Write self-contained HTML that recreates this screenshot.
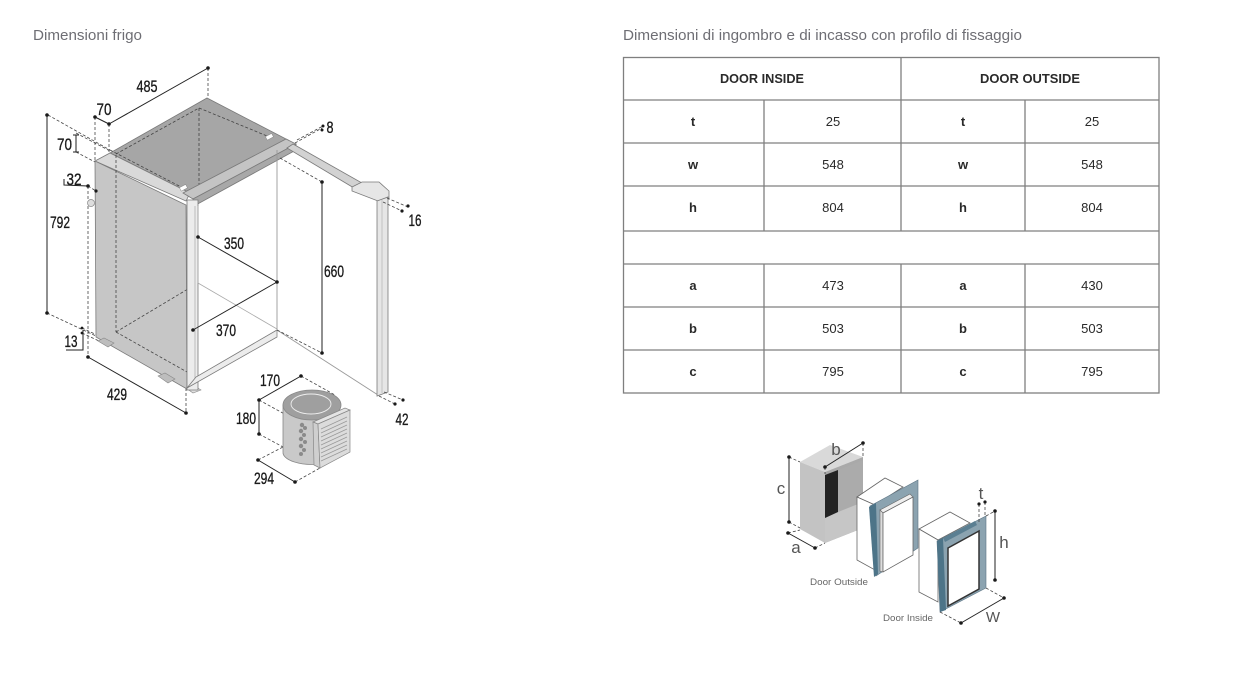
<!DOCTYPE html>
<html><head><meta charset="utf-8"><style>
html,body{margin:0;padding:0;background:#fff;}
svg{display:block;}
text{font-family:"Liberation Sans",sans-serif;}
.n{font-size:17px;fill:#1a1a1a;text-anchor:middle;stroke:#1a1a1a;stroke-width:0.35;}
.tb{font-size:13px;fill:#2a2a2a;text-anchor:middle;}
.d{stroke:#444;stroke-width:0.8;stroke-dasharray:3 2;fill:none;}
.s{stroke:#222;stroke-width:1;fill:none;}
.dot{fill:#1a1a1a;}
.o{stroke:#7a7a7a;stroke-width:0.8;}
</style></head><body>
<svg width="1260" height="692" viewBox="0 0 1260 692" xmlns="http://www.w3.org/2000/svg">
<rect width="1260" height="692" fill="#fff"/>

<!-- Titles -->
<text x="33" y="40" font-size="15" fill="#6e6e74" textLength="109" lengthAdjust="spacingAndGlyphs">Dimensioni frigo</text>
<text x="623" y="40" font-size="15" fill="#6e6e74" textLength="399" lengthAdjust="spacingAndGlyphs">Dimensioni di ingombro e di incasso con profilo di fissaggio</text>

<!-- ============ FRIDGE ============ -->
<line class="d" x1="208" y1="68" x2="208" y2="98"/>
<line class="d" x1="109" y1="124" x2="109" y2="152"/>
<line class="d" x1="95" y1="117" x2="95" y2="162"/>
<line class="d" x1="48" y1="115" x2="110" y2="150"/>
<line class="d" x1="76" y1="133" x2="110" y2="151"/>
<line class="d" x1="76" y1="152" x2="95" y2="162"/>
<line class="d" x1="88" y1="186" x2="96" y2="191"/>
<line class="d" x1="88" y1="186" x2="88" y2="357"/>
<line class="d" x1="47" y1="313" x2="96" y2="336"/>
<line class="d" x1="82" y1="328" x2="97" y2="335"/>
<line class="d" x1="82" y1="333" x2="99" y2="341"/>
<line class="d" x1="186" y1="388" x2="186" y2="413"/>

<!-- side panel -->
<polygon points="95,161 186,205 187,389 96,337" fill="#c6c6c6" class="o"/>
<polygon points="98,341 104,338 114,343 108,347" fill="#bdbdbd" stroke="#888" stroke-width="0.6"/>
<polygon points="158,376 165,373 175,379 168,383" fill="#bdbdbd" stroke="#888" stroke-width="0.6"/>
<polygon points="186,388 194,386 201,390 193,393" fill="#e0e0e0" stroke="#888" stroke-width="0.6"/>
<!-- top face -->
<polygon points="110,153 207,98 288,140 190,193" fill="#a6a6a6" class="o"/>
<polygon points="95,161 110,153 190,193 186,201" fill="#d9d9d9" class="o"/>
<line class="d" x1="116" y1="155" x2="116" y2="332"/>
<line class="d" x1="116" y1="332" x2="187" y2="372"/>
<line class="d" x1="116" y1="332" x2="198" y2="283"/>
<line class="d" x1="116" y1="154" x2="199" y2="108"/>
<line class="d" x1="199" y1="108" x2="272" y2="138"/>
<line class="d" x1="199" y1="108" x2="199" y2="185"/>
<line class="d" x1="110" y1="150" x2="183" y2="188"/>
<rect x="266" y="135" width="7" height="4" fill="#fff" stroke="#888" stroke-width="0.5" transform="rotate(-28 269 137)"/>
<rect x="180" y="186" width="7" height="4" fill="#fff" stroke="#888" stroke-width="0.5" transform="rotate(-28 183 188)"/>
<!-- top bar -->
<polygon points="183,193 286,139 296,144 193,199" fill="#c4c4c4" class="o"/>
<polygon points="193,199 296,144 296,150 194,206" fill="#a8a8a8" class="o"/>
<!-- front post -->
<polygon points="187,200 198,200 198,390 187,390" fill="#ececec" class="o"/>
<line x1="195" y1="206" x2="195" y2="382" stroke="#aaa" stroke-width="0.7"/>
<polygon points="187,388 277,337 277,330 196,377" fill="#ececec" class="o"/>
<line x1="277" y1="150" x2="277" y2="337" stroke="#999" stroke-width="0.9"/>
<line x1="198" y1="206" x2="198" y2="283" stroke="#aaa" stroke-width="0.8"/>
<line x1="198" y1="283" x2="277" y2="329" stroke="#aaa" stroke-width="0.8"/>
<line x1="277" y1="330" x2="378" y2="395" stroke="#9a9a9a" stroke-width="0.9"/>
<!-- door -->
<polygon points="287,148 293,144 362,183 354,188" fill="#d2d2d2" class="o"/>
<polygon points="352,187 362,182 379,182 389,191 389,199 378,201 352,191" fill="#e6e6e6" class="o"/>
<polygon points="377,201 388,197 388,392 377,396" fill="#e6e6e6" class="o"/>
<line x1="382" y1="200" x2="382" y2="393" stroke="#aaa" stroke-width="0.6"/>
<circle cx="91" cy="203" r="3.5" fill="#ddd" stroke="#888" stroke-width="0.7"/>

<line class="d" x1="295" y1="143" x2="322" y2="128"/>
<line class="d" x1="297" y1="140" x2="323" y2="126"/>
<line class="d" x1="387" y1="198" x2="408" y2="207"/>
<line class="d" x1="383" y1="202" x2="402" y2="211"/>
<line class="d" x1="384" y1="392" x2="403" y2="400"/>
<line class="d" x1="379" y1="396" x2="395" y2="404"/>
<line class="d" x1="280" y1="158" x2="322" y2="182"/>
<line class="d" x1="277" y1="330" x2="322" y2="353"/>

<line class="s" x1="109" y1="124" x2="208" y2="68"/>
<line class="s" x1="95" y1="117" x2="109" y2="124"/>
<line class="s" x1="47" y1="115" x2="47" y2="313"/>
<line class="s" x1="76" y1="135" x2="76" y2="152"/>
<line class="s" x1="73" y1="135" x2="79" y2="135"/>
<line class="s" x1="73" y1="152" x2="79" y2="152"/>
<polyline class="s" points="64,179 64,185 88,186"/>
<line class="s" x1="88" y1="357" x2="186" y2="413"/>
<polyline class="s" points="66,350 83,350 83,330"/>
<line class="s" x1="198" y1="237" x2="277" y2="282"/>
<line class="s" x1="193" y1="330" x2="277" y2="282"/>
<line class="s" x1="322" y1="182" x2="322" y2="353"/>

<g class="dot">
<circle cx="208" cy="68" r="1.8"/><circle cx="109" cy="124" r="1.8"/><circle cx="95" cy="117" r="1.8"/>
<circle cx="47" cy="115" r="1.8"/><circle cx="47" cy="313" r="1.8"/>
<circle cx="88" cy="186" r="1.8"/><circle cx="96" cy="191" r="1.6"/>
<circle cx="88" cy="357" r="1.8"/><circle cx="186" cy="413" r="1.8"/>
<circle cx="82" cy="328" r="1.4"/><circle cx="82" cy="333" r="1.4"/>
<circle cx="198" cy="237" r="1.8"/><circle cx="277" cy="282" r="1.8"/><circle cx="193" cy="330" r="1.8"/>
<circle cx="322" cy="182" r="1.8"/><circle cx="322" cy="353" r="1.8"/>
<circle cx="323" cy="126" r="1.5"/><circle cx="322" cy="130" r="1.5"/>
<circle cx="408" cy="206" r="1.6"/><circle cx="402" cy="211" r="1.6"/>
<circle cx="403" cy="400" r="1.6"/><circle cx="395" cy="404" r="1.6"/>
</g>

<text class="n" x="147" y="92" textLength="21" lengthAdjust="spacingAndGlyphs">485</text>
<text class="n" x="104" y="115" textLength="15" lengthAdjust="spacingAndGlyphs">70</text>
<text class="n" x="64.5" y="150" textLength="15" lengthAdjust="spacingAndGlyphs">70</text>
<text class="n" x="74" y="185" textLength="15" lengthAdjust="spacingAndGlyphs">32</text>
<text class="n" x="60" y="228" textLength="20" lengthAdjust="spacingAndGlyphs">792</text>
<text class="n" x="71" y="347" textLength="13" lengthAdjust="spacingAndGlyphs">13</text>
<text class="n" x="117" y="400" textLength="20" lengthAdjust="spacingAndGlyphs">429</text>
<text class="n" x="234" y="249" textLength="20" lengthAdjust="spacingAndGlyphs">350</text>
<text class="n" x="226" y="336" textLength="20" lengthAdjust="spacingAndGlyphs">370</text>
<text class="n" x="334" y="277" textLength="20" lengthAdjust="spacingAndGlyphs">660</text>
<text class="n" x="330" y="133" textLength="7" lengthAdjust="spacingAndGlyphs">8</text>
<text class="n" x="415" y="226" textLength="13" lengthAdjust="spacingAndGlyphs">16</text>
<text class="n" x="402" y="425" textLength="13" lengthAdjust="spacingAndGlyphs">42</text>

<!-- ============ COMPRESSOR ============ -->
<line class="d" x1="301" y1="376" x2="335" y2="395"/>
<line class="d" x1="259" y1="400" x2="310" y2="428"/>
<line class="d" x1="259" y1="434" x2="283" y2="447"/>
<line class="d" x1="258" y1="460" x2="283" y2="447"/>
<line class="d" x1="295" y1="482" x2="320" y2="468"/>
<path d="M283,405 L283,452 A29,12 0 0 0 320,464 L320,420 Z" fill="#c9c9c9" stroke="#888" stroke-width="0.8"/>
<ellipse cx="312" cy="405" rx="29" ry="15" fill="#9f9f9f" stroke="#888" stroke-width="0.8"/>
<ellipse cx="311" cy="404" rx="20" ry="10" fill="none" stroke="#eee" stroke-width="0.9"/>
<g fill="#8a8a8a">
<circle cx="302" cy="425" r="2.2"/><circle cx="305" cy="428" r="2"/><circle cx="301" cy="431" r="2.2"/>
<circle cx="304" cy="435" r="2"/><circle cx="301" cy="439" r="2.2"/><circle cx="305" cy="442" r="2"/>
<circle cx="301" cy="446" r="2.2"/><circle cx="304" cy="450" r="2"/><circle cx="301" cy="454" r="2"/>
</g>
<polygon points="313,422 345,408 350,410 318,424" fill="#e4e4e4" stroke="#888" stroke-width="0.7"/>
<polygon points="313,422 318,424 320,468 314,465" fill="#cfcfcf" stroke="#888" stroke-width="0.7"/>
<polygon points="318,424 350,410 350,452 320,468" fill="#dcdcdc" stroke="#888" stroke-width="0.7"/>
<g stroke="#999" stroke-width="0.7">
<line x1="321" y1="429" x2="347" y2="417"/><line x1="321" y1="433" x2="347" y2="421"/>
<line x1="321" y1="437" x2="347" y2="425"/><line x1="321" y1="441" x2="347" y2="429"/>
<line x1="321" y1="445" x2="347" y2="433"/><line x1="321" y1="449" x2="347" y2="437"/>
<line x1="321" y1="453" x2="347" y2="441"/><line x1="321" y1="457" x2="347" y2="445"/>
<line x1="321" y1="461" x2="347" y2="449"/>
</g>
<line class="s" x1="259" y1="400" x2="301" y2="376"/>
<line class="s" x1="259" y1="400" x2="259" y2="434"/>
<line class="s" x1="258" y1="460" x2="295" y2="482"/>
<g class="dot">
<circle cx="259" cy="400" r="1.8"/><circle cx="301" cy="376" r="1.8"/><circle cx="259" cy="434" r="1.8"/>
<circle cx="258" cy="460" r="1.8"/><circle cx="295" cy="482" r="1.8"/>
</g>
<text class="n" x="270" y="386" textLength="20" lengthAdjust="spacingAndGlyphs">170</text>
<text class="n" x="246" y="424" textLength="20" lengthAdjust="spacingAndGlyphs">180</text>
<text class="n" x="264" y="484" textLength="20" lengthAdjust="spacingAndGlyphs">294</text>

<!-- ============ TABLE ============ -->
<g stroke="#7f7f7f" stroke-width="1.3" fill="none">
<rect x="623.5" y="57.5" width="535.5" height="335.5"/>
<line x1="901" y1="57" x2="901" y2="231"/>
<line x1="901" y1="264" x2="901" y2="393"/>
<line x1="764" y1="100" x2="764" y2="231"/>
<line x1="1025" y1="100" x2="1025" y2="231"/>
<line x1="764" y1="264" x2="764" y2="393"/>
<line x1="1025" y1="264" x2="1025" y2="393"/>
<line x1="623" y1="100" x2="1159" y2="100"/>
<line x1="623" y1="143" x2="1159" y2="143"/>
<line x1="623" y1="186" x2="1159" y2="186"/>
<line x1="623" y1="231" x2="1159" y2="231"/>
<line x1="623" y1="264" x2="1159" y2="264"/>
<line x1="623" y1="307" x2="1159" y2="307"/>
<line x1="623" y1="350" x2="1159" y2="350"/>
</g>
<text class="tb" x="762" y="83" font-weight="bold" textLength="84" lengthAdjust="spacingAndGlyphs">DOOR INSIDE</text>
<text class="tb" x="1030" y="83" font-weight="bold" textLength="100" lengthAdjust="spacingAndGlyphs">DOOR OUTSIDE</text>
<g class="tb">
<text x="693" y="126" font-weight="bold">t</text><text x="833" y="126">25</text><text x="963" y="126" font-weight="bold">t</text><text x="1092" y="126">25</text>
<text x="693" y="169" font-weight="bold">w</text><text x="833" y="169">548</text><text x="963" y="169" font-weight="bold">w</text><text x="1092" y="169">548</text>
<text x="693" y="212" font-weight="bold">h</text><text x="833" y="212">804</text><text x="963" y="212" font-weight="bold">h</text><text x="1092" y="212">804</text>
<text x="693" y="290" font-weight="bold">a</text><text x="833" y="290">473</text><text x="963" y="290" font-weight="bold">a</text><text x="1092" y="290">430</text>
<text x="693" y="333" font-weight="bold">b</text><text x="833" y="333">503</text><text x="963" y="333" font-weight="bold">b</text><text x="1092" y="333">503</text>
<text x="693" y="376" font-weight="bold">c</text><text x="833" y="376">795</text><text x="963" y="376" font-weight="bold">c</text><text x="1092" y="376">795</text>
</g>

<!-- ============ RIGHT DIAGRAM ============ -->
<polygon points="800,462 830,445 863,457 825,472" fill="#d9d9d9"/>
<polygon points="800,462 825,472 825,543 800,529" fill="#c3c3c3"/>
<polygon points="825,472 863,457 863,528 825,543" fill="#a9a9a9"/>
<polygon points="838,470 863,460 863,502 838,512" fill="#ababab"/>
<polygon points="825,518 838,512 863,502 863,528 825,543" fill="#c6c6c6"/>
<polygon points="825,475 838,470 838,512 825,518" fill="#222"/>
<line class="d" x1="789" y1="457" x2="800" y2="462"/>
<line class="d" x1="789" y1="522" x2="800" y2="528"/>
<line class="d" x1="788" y1="533" x2="800" y2="530"/>
<line class="d" x1="815" y1="548" x2="825" y2="543"/>
<line class="d" x1="825" y1="467" x2="825" y2="474"/>
<line class="d" x1="863" y1="443" x2="863" y2="457"/>
<line class="s" x1="789" y1="457" x2="789" y2="522" stroke="#555"/>
<line class="s" x1="788" y1="533" x2="815" y2="548" stroke="#555"/>
<line class="s" x1="825" y1="467" x2="863" y2="443" stroke="#555"/>

<polygon points="857,497 885,478 903,487 875,505" fill="#fff" stroke="#666" stroke-width="0.8"/>
<polygon points="857,497 875,505 875,570 857,560" fill="#fff" stroke="#666" stroke-width="0.8"/>
<polygon points="870,506 918,480 918,548 876,576" fill="#8ba3b0" stroke="#5d7585" stroke-width="0.6"/>
<polygon points="869,507 876,503 878,574 874,577" fill="#4d7488"/>
<polygon points="880,510 910,494 913,497 883,513" fill="#eee" stroke="#666" stroke-width="0.6"/>
<polygon points="880,510 883,513 883,572 880,571" fill="#ddd" stroke="#666" stroke-width="0.6"/>
<polygon points="883,513 913,497 913,555 883,572" fill="#fff" stroke="#666" stroke-width="0.8"/>

<polygon points="919,529 950,512 970,523 938,540" fill="#fff" stroke="#666" stroke-width="0.8"/>
<polygon points="919,529 938,540 938,602 919,592" fill="#fff" stroke="#666" stroke-width="0.8"/>
<polygon points="937,541 986,516 986,588 940,612" fill="#8ba3b0" stroke="#5d7585" stroke-width="0.6"/>
<polygon points="937,541 943,538 946,610 940,612" fill="#4d7488"/>
<polygon points="943,538 975,521 977,525 945,542" fill="#5b7f92"/>
<polygon points="948,548 979,531 979,589 948,606" fill="#fff" stroke="#333" stroke-width="1.5"/>
<line class="d" x1="979" y1="504" x2="979" y2="522"/>
<line class="d" x1="985" y1="502" x2="985" y2="517"/>
<line class="d" x1="986" y1="516" x2="995" y2="511"/>
<line class="d" x1="940" y1="612" x2="961" y2="623"/>
<line class="d" x1="986" y1="588" x2="1004" y2="598"/>
<line class="s" x1="995" y1="511" x2="995" y2="580" stroke="#555"/>
<line class="s" x1="961" y1="623" x2="1004" y2="598" stroke="#555"/>

<g class="dot">
<circle cx="789" cy="457" r="1.8"/><circle cx="789" cy="522" r="1.8"/>
<circle cx="788" cy="533" r="1.8"/><circle cx="815" cy="548" r="1.8"/>
<circle cx="825" cy="467" r="1.8"/><circle cx="863" cy="443" r="1.8"/>
<circle cx="979" cy="504" r="1.6"/><circle cx="985" cy="502" r="1.6"/>
<circle cx="995" cy="511" r="1.8"/><circle cx="995" cy="580" r="1.8"/>
<circle cx="961" cy="623" r="1.8"/><circle cx="1004" cy="598" r="1.8"/>
</g>
<g font-size="17" fill="#555" text-anchor="middle">
<text x="836" y="455">b</text>
<text x="781" y="494">c</text>
<text x="796" y="553">a</text>
<text x="981" y="499">t</text>
<text x="1004" y="548">h</text>
<text x="993" y="622" font-size="15">W</text>
</g>
<text x="810" y="585" font-size="9.5" fill="#666" textLength="58" lengthAdjust="spacingAndGlyphs">Door Outside</text>
<text x="883" y="621" font-size="9.5" fill="#666" textLength="50" lengthAdjust="spacingAndGlyphs">Door Inside</text>
</svg>
</body></html>
